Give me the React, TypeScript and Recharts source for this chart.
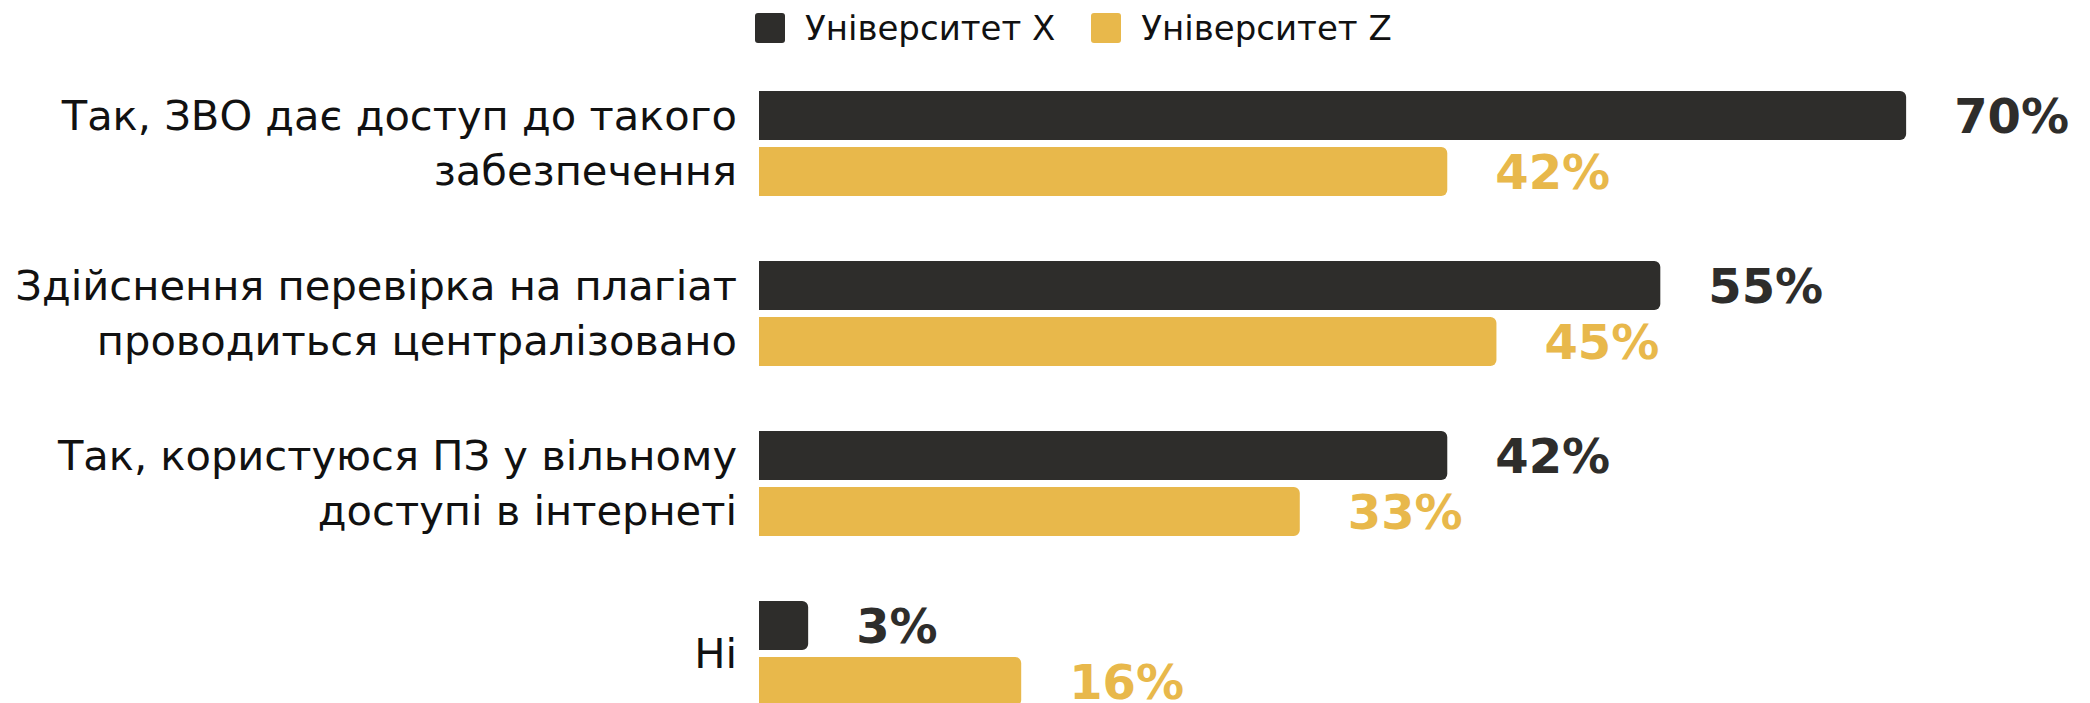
import React from "react";
import { BarChart, Bar, XAxis, YAxis, Legend, LabelList } from "recharts";

const categories = [
  "Так, ЗВО дає доступ до такого\nзабезпечення",
  "Здійснення перевірка на плагіат\nпроводиться централізовано",
  "Так, користуюся ПЗ у вільному\nдоступі в інтернеті",
  "Ні",
];
const universityX = [70, 55, 42, 3];
const universityZ = [42, 45, 33, 16];
const seriesNames = ["Університет X", "Університет Z"];

const DARK = "#2e2d2b";
const GOLD = "#e8b84b";
const FONT = "'DejaVu Sans', Verdana, sans-serif";

const data = categories.map((name, i) => ({
  name,
  x: universityX[i],
  z: universityZ[i],
}));

const CategoryTick = (props: any) => {
  const { x, y, payload } = props;
  const lines: string[] = String(payload.value).split("\n");
  const step = 55;
  const start = -((lines.length - 1) * step) / 2;
  return (
    <g>
      {lines.map((line, i) => (
        <text
          key={i}
          x={x}
          y={y + start + i * step}
          textAnchor="end"
          dominantBaseline="central"
          fontFamily={FONT}
          fontSize={41.6}
          fill="#111"
        >
          {line}
        </text>
      ))}
    </g>
  );
};

const LegendContent = (props: any) => {
  const items = props.payload || [];
  return (
    <div style={{ display: "flex", alignItems: "center", fontFamily: FONT, fontSize: 34, color: "#111" }}>
      {items.map((it: any, i: number) => (
        <div key={i} style={{ display: "flex", alignItems: "center", marginRight: 36 }}>
          <span
            style={{
              display: "inline-block",
              width: 30,
              height: 30,
              borderRadius: 3,
              background: it.color,
              marginRight: 20,
            }}
          />
          <span>{it.value}</span>
        </div>
      ))}
    </div>
  );
};

export default function App() {
  return (
    <div style={{ position: "fixed", left: 0, top: 0, width: 2090, height: 703, overflow: "hidden", background: "#fff" }}>
      <BarChart
        width={2090}
        height={740}
        data={data}
        layout="vertical"
        margin={{ top: 58, right: 20, bottom: 2, left: 0 }}
        barSize={49}
        barGap={7}
      >
        <XAxis type="number" domain={[0, 80]} hide />
        <YAxis
          type="category"
          dataKey="name"
          width={759}
          axisLine={false}
          tickLine={false}
          tickSize={0}
          tickMargin={22}
          tick={<CategoryTick />}
          interval={0}
        />
        <Legend
          layout="horizontal"
          verticalAlign="middle"
          align="center"
          content={<LegendContent />}
          wrapperStyle={{ top: 8, left: 755, width: "auto", height: 32 }}
        />
        <Bar dataKey="x" name={seriesNames[0]} fill={DARK} radius={[0, 6, 6, 0]} isAnimationActive={false}>
          <LabelList
            dataKey="x"
            position="right"
            offset={48}
            fill={DARK}
            fontFamily={FONT}
            fontWeight="bold"
            fontSize={48}
            formatter={(v: any) => `${v}%`}
          />
        </Bar>
        <Bar dataKey="z" name={seriesNames[1]} fill={GOLD} radius={[0, 6, 6, 0]} isAnimationActive={false}>
          <LabelList
            dataKey="z"
            position="right"
            offset={48}
            fill={GOLD}
            fontFamily={FONT}
            fontWeight="bold"
            fontSize={48}
            formatter={(v: any) => `${v}%`}
          />
        </Bar>
      </BarChart>
    </div>
  );
}
